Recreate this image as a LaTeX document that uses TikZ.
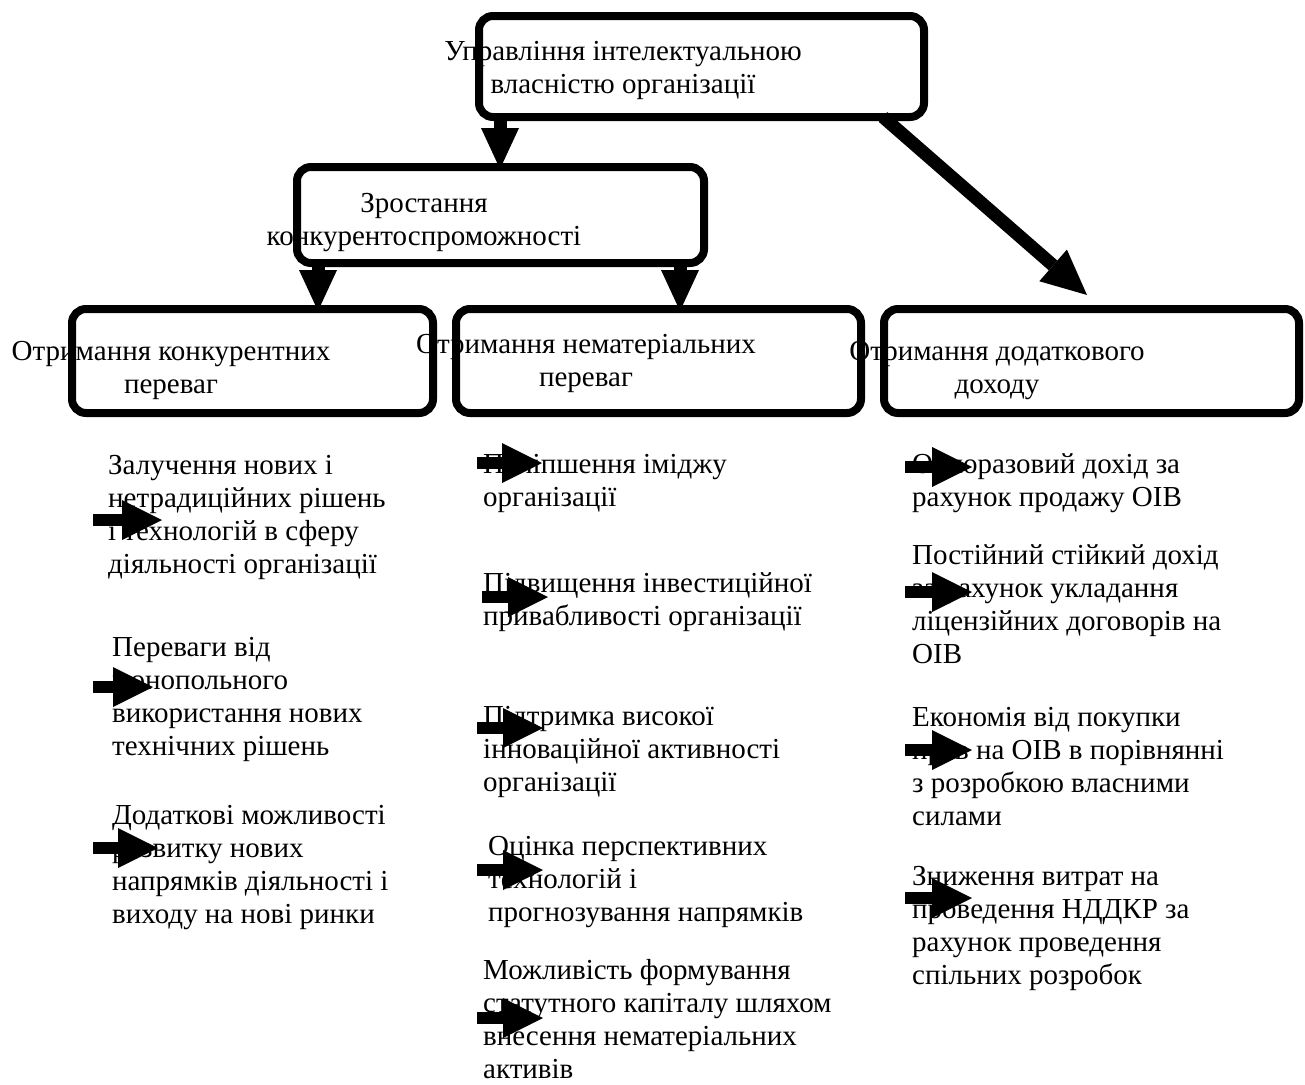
\documentclass[tikz,border=0pt]{standalone}
\usepackage{fontspec}
\setmainfont{Liberation Serif}
\usetikzlibrary{arrows.meta}
\newcommand\firstln{\rule{0pt}{24pt}}
\begin{document}
\begin{tikzpicture}[x=1pt,y=-1pt,
  box/.style={draw, line width=8pt, rounded corners=14pt, inner sep=0pt, outer sep=0pt},
  btxt/.style={anchor=north, align=center, inner sep=0pt, font=\fontsize{29}{33.5}\selectfont},
  ltxt/.style={anchor=north west, align=left, inner sep=0pt, font=\fontsize{29}{33.2}\selectfont},
  bigarrow/.style={line width=13pt, -{Triangle[length=41pt,width=38pt,line width=0pt]}},
  diagarrow/.style={line width=13pt, -{Triangle[length=45pt,width=42pt,line width=0pt]}},
  smallarrow/.style={line width=12pt, -{Triangle[length=40pt,width=40pt,line width=0pt]}}
]
\fill[white] (0,0) rectangle (1305,1084);
\useasboundingbox (0,0) rectangle (1305,1084);

% box texts
\node[btxt] (ttop) at (623,36) {\firstln Управління інтелектуальною\\власністю організації};
\node[btxt] (tzr) at (424,188) {\firstln Зростання\\конкурентоспроможності};
\node[btxt] (tb1) at (171,336) {\firstln Отримання конкурентних\\переваг};
\node[btxt] (tb2) at (586,329) {\firstln Отримання нематеріальних\\переваг};
\node[btxt] (tb3) at (997,336) {\firstln Отримання додаткового\\доходу};

% list texts
\node[ltxt] (l1) at (108,450) {\firstln Залучення нових і\\нетрадиційних рішень\\і технологій в сферу\\діяльності організації};
\node[ltxt] (l2) at (112,632) {\firstln Переваги від\\монопольного\\використання нових\\технічних рішень};
\node[ltxt] (l3) at (112,800) {\firstln Додаткові можливості\\розвитку нових\\напрямків діяльності і\\виходу на нові ринки};

\node[ltxt] (m1) at (483,449) {\firstln Поліпшення іміджу\\організації};
\node[ltxt] (m2) at (483,568) {\firstln Підвищення інвестиційної\\привабливості організації};
\node[ltxt] (m3) at (483,701) {\firstln Підтримка високої\\інноваційної активності\\організації};
\node[ltxt] (m4) at (488,831) {\firstln Оцінка перспективних\\технологій і\\прогнозування напрямків};
\node[ltxt] (m5) at (483,955) {\firstln Можливість формування\\статутного капіталу шляхом\\внесення нематеріальних\\активів};

\node[ltxt] (r1) at (912,449) {\firstln Одноразовий дохід за\\рахунок продажу ОІВ};
\node[ltxt] (r2) at (912,540) {\firstln Постійний стійкий дохід\\за рахунок укладання\\ліцензійних договорів на\\ОІВ};
\node[ltxt] (r3) at (912,702) {\firstln Економія від покупки\\прав на ОІВ в порівнянні\\з розробкою власними\\силами};
\node[ltxt] (r4) at (912,861) {\firstln Зниження витрат на\\проведення НДДКР за\\рахунок проведення\\спільних розробок};

% boxes
\node[box, minimum width=445pt, minimum height=101pt] (top) at (701.5,66.5) {};
\node[box, minimum width=407pt, minimum height=96pt] (zr) at (500.5,215) {};
\node[box, minimum width=361pt, minimum height=104pt] (b1) at (252.5,361) {};
\node[box, minimum width=405pt, minimum height=104pt] (b2) at (658.5,361) {};
\node[box, minimum width=415pt, minimum height=104pt] (b3) at (1091.5,361) {};

% connector helpers
\coordinate (xa) at (500,0);
\coordinate (xb) at (318,0);
\coordinate (xc) at (680,0);
\coordinate (xd) at (883,0);
\coordinate (dend) at (1087,295);

\draw[bigarrow] (top.south -| xa) -- ([yshift=-2pt]zr.north -| xa);
\draw[bigarrow] (zr.south -| xb) -- ([yshift=-2pt]b1.north -| xb);
\draw[bigarrow] (zr.south -| xc) -- ([yshift=-2pt]b2.north -| xc);
\draw[diagarrow] (top.south -| xd) -- (dend);

% side arrows
\coordinate (la1) at (93,520);  \coordinate (lb1) at (162,520);
\coordinate (la2) at (93,687);  \coordinate (lb2) at (153,687);
\coordinate (la3) at (93,848);  \coordinate (lb3) at (158,848);
\coordinate (ma1) at (477,463); \coordinate (mb1) at (542,463);
\coordinate (ma2) at (482,597); \coordinate (mb2) at (548,597);
\coordinate (ma3) at (477,728); \coordinate (mb3) at (543,728);
\coordinate (ma4) at (477,870); \coordinate (mb4) at (543,870);
\coordinate (ma5) at (477,1018); \coordinate (mb5) at (543,1018);
\coordinate (ra1) at (905,467); \coordinate (rb1) at (972,467);
\coordinate (ra2) at (905,592); \coordinate (rb2) at (972,592);
\coordinate (ra3) at (905,750); \coordinate (rb3) at (972,750);
\coordinate (ra4) at (905,898); \coordinate (rb4) at (972,898);
\foreach \p in {l,m,r}{
  \foreach \i in {1,2,3}{ \draw[smallarrow] (\p a\i) -- (\p b\i); }
}
\draw[smallarrow] (ma4) -- (mb4);
\draw[smallarrow] (ma5) -- (mb5);
\draw[smallarrow] (ra4) -- (rb4);
\end{tikzpicture}
\end{document}
